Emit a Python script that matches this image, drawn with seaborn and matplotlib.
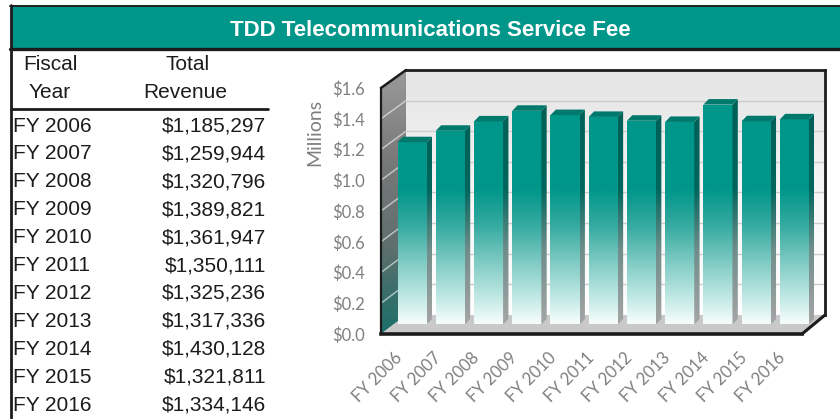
import numpy as np
import pandas as pd
import matplotlib
matplotlib.use('Agg')
import matplotlib.pyplot as plt
import seaborn as sns
from matplotlib.colors import LinearSegmentedColormap
from matplotlib.patches import Polygon, Rectangle

# data
years = ['FY 2006', 'FY 2007', 'FY 2008', 'FY 2009', 'FY 2010', 'FY 2011',
         'FY 2012', 'FY 2013', 'FY 2014', 'FY 2015', 'FY 2016']
revenue = [1185297, 1259944, 1320796, 1389821, 1361947, 1350111,
           1325236, 1317336, 1430128, 1321811, 1334146]
y_ticks = [0.0, 0.2, 0.4, 0.6, 0.8, 1.0, 1.2, 1.4, 1.6]

df = pd.DataFrame({'year': years, 'millions': np.array(revenue) / 1e6})

sns.set_style('white')
plt.rcParams['font.family'] = ['Liberation Sans', 'DejaVu Sans']

W, H = 840, 419
TEAL = '#00968a'
GREY = '#7f7f7f'
DARK = '#1c1c1c'

fig = plt.figure(figsize=(8.4, 4.19), dpi=100)


def box(x0, y0, x1, y1):
    # pixel box (top-left origin) -> figure fraction
    return [x0 / W, 1 - y1 / H, (x1 - x0) / W, (y1 - y0) / H]


# background layer: banner, table, side walls
bg = fig.add_axes([0, 0, 1, 1], zorder=0)
bg.set_xlim(0, W)
bg.set_ylim(H, 0)
bg.axis('off')

bg.add_patch(Rectangle((11, 7), W - 11, 41, color=TEAL, lw=0))
bg.plot([10, W], [6, 6], color=DARK, lw=1.4)
bg.plot([10, W], [49.5, 49.5], color=DARK, lw=2.4)
bg.plot([11, 11], [5, 418], color=DARK, lw=2.0)
bg.text(430, 31, 'TDD Telecommunications Service Fee', color='white',
        fontsize=16, fontweight='bold', ha='center', va='center')

# table
bg.text(50, 65, 'Fiscal', fontsize=15, ha='center', va='center', color=DARK)
bg.text(50, 93, 'Year', fontsize=15, ha='center', va='center', color=DARK)
bg.text(188, 65, 'Total', fontsize=15, ha='center', va='center', color=DARK)
bg.text(185, 93, 'Revenue', fontsize=15, ha='center', va='center', color=DARK)
bg.plot([11, 268], [109.5, 109.5], color=DARK, lw=2.0)
for i, (yr, v) in enumerate(zip(years, revenue)):
    yy = 126 + i * 27.9
    bg.text(13, yy, yr, fontsize=15, ha='left', va='center', color=DARK)
    bg.text(266, yy, f'${v:,}', fontsize=15, ha='right', va='center', color=DARK)

# left wall and floor of the 3D box
left_wall = Polygon([(381, 88), (406, 70), (406, 315), (381, 334)], closed=True,
                    facecolor='none', edgecolor='none')
bg.add_patch(left_wall)
wall_cmap = LinearSegmentedColormap.from_list(
    'wall', ['#1c6f69', '#5f6f6e', '#7a7a7a', '#9a9a9a'])
im = bg.imshow(np.linspace(0, 1, 256)[:, None], extent=[381, 406, 334, 70],
               origin='lower', cmap=wall_cmap, aspect='auto')
im.set_clip_path(left_wall)
for t in y_ticks[1:-1]:
    bg.plot([381, 406], [334 - t * 246 / 1.6, 315 - t * 245 / 1.6],
            color='white', lw=1, alpha=0.6)
bg.add_patch(Polygon([(381, 334), (802, 334), (825, 315), (406, 315)],
                     closed=True, facecolor='#c9c9c9', edgecolor='none'))
bg.plot([406, 406], [70, 315], color='#555555', lw=0.8)
bg.set_xlim(0, W)
bg.set_ylim(H, 0)

# back wall
axw = fig.add_axes(box(406, 70, 825, 315), zorder=1)
axw.set_xlim(0, 1)
axw.set_ylim(0, 1.6)
back_cmap = LinearSegmentedColormap.from_list('back', ['#ffffff', '#f6f6f6', '#e4e4e4'])
axw.imshow(np.linspace(0, 1, 256)[:, None], extent=[0, 1, 0, 1.6],
           origin='lower', cmap=back_cmap, aspect='auto')
for t in y_ticks[1:-1]:
    axw.axhline(t, color='#cdcdcd', lw=1)
axw.set_xlim(0, 1)
axw.set_ylim(0, 1.6)
axw.set_xticks([])
axw.set_yticks([])
for s in ['left', 'bottom']:
    axw.spines[s].set_visible(False)
for s in ['top', 'right']:
    axw.spines[s].set_color(DARK)
    axw.spines[s].set_linewidth(2)

# bars, set halfway into the box depth
axb = fig.add_axes(box(393, 78.5, 813.5, 324.5), zorder=2)
sns.barplot(data=df, x='year', y='millions', ax=axb, color=TEAL,
            width=0.76, saturation=1)
front_cmap = LinearSegmentedColormap.from_list(
    'front', [(0, '#f7fdfc'), (0.1, '#c4eae6'), (0.25, '#7fcbc4'),
              (0.4, '#35aaa0'), (0.55, TEAL), (1, TEAL)])
side_cmap = LinearSegmentedColormap.from_list(
    'side', [(0, '#a5a5a5'), (0.3, '#6f8e8b'), (0.55, '#00665d'), (1, '#005e56')])
DX, DY = 0.14, 0.036
for bar in list(axb.patches):
    x0, w, h = bar.get_x(), bar.get_width(), bar.get_height()
    bar.set_edgecolor('none')
    bar.set_facecolor('none')
    im = axb.imshow(np.linspace(0, 1, 256)[:, None], extent=[x0, x0 + w, 0, 1.6],
                    origin='lower', cmap=front_cmap, aspect='auto', zorder=3)
    im.set_clip_path(bar)
    side = Polygon([(x0 + w, 0), (x0 + w + DX, DY), (x0 + w + DX, h + DY), (x0 + w, h)],
                   closed=True, facecolor='none', edgecolor='none')
    axb.add_patch(side)
    im2 = axb.imshow(np.linspace(0, 1, 256)[:, None],
                     extent=[x0 + w, x0 + w + DX, 0, 1.6],
                     origin='lower', cmap=side_cmap, aspect='auto', zorder=3)
    im2.set_clip_path(side)
    axb.add_patch(Polygon([(x0, h), (x0 + DX, h + DY), (x0 + w + DX, h + DY), (x0 + w, h)],
                          closed=True, facecolor='#00796d', edgecolor='none', zorder=4))
axb.set_xlim(-0.5, 10.5)
axb.set_ylim(0, 1.6)
axb.axis('off')

# front plane: axis labels and front edges
ax = fig.add_axes(box(381, 88, 802, 334), zorder=3)
ax.patch.set_visible(False)
ax.set_xlim(-0.5, 10.5)
ax.set_ylim(0, 1.6)
ax.set_xticks(range(len(years)))
ax.set_xticklabels(years, rotation=45, ha='right', va='center',
                   rotation_mode='anchor', family='Lato', fontsize=12, color=GREY)
ax.set_yticks(y_ticks)
ax.set_yticklabels([f'${t:.1f}' for t in y_ticks], family='Lato',
                   fontsize=12, color=GREY)
ax.tick_params(axis='x', length=0, pad=15)
ax.tick_params(axis='y', length=0, pad=11.5)
ax.text(-0.157, 0.82, 'Millions', transform=ax.transAxes, rotation=90,
        ha='center', va='center', family='Lato', fontsize=14, color=GREY)
for s in ['top', 'right']:
    ax.spines[s].set_visible(False)
ax.spines['left'].set_color(DARK)
ax.spines['left'].set_linewidth(1.6)
ax.spines['bottom'].set_color(DARK)
ax.spines['bottom'].set_linewidth(2.6)

# slanted edges of the box
top = fig.add_axes([0, 0, 1, 1], zorder=4)
top.patch.set_visible(False)
top.set_xlim(0, W)
top.set_ylim(H, 0)
top.axis('off')
top.plot([381, 406], [88, 70], color=DARK, lw=1.8)
top.plot([802, 825], [334, 315], color=DARK, lw=2.2)

fig.savefig('out.png', dpi=100)
